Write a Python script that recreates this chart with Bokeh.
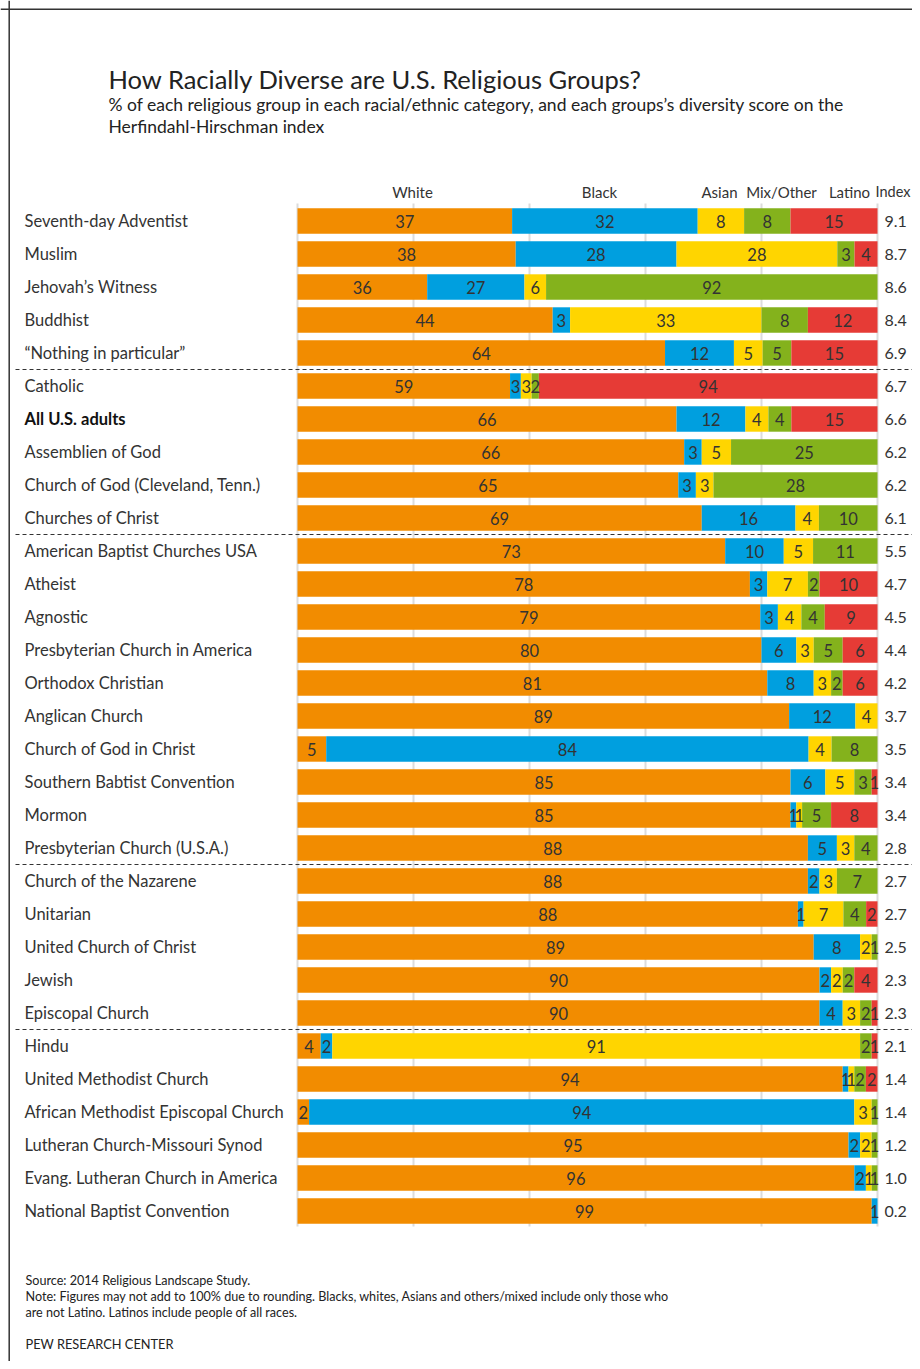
import numpy as np
from bokeh.plotting import figure
from bokeh.models import ColumnDataSource, Range1d, Span
from bokeh.core.properties import value
from bokeh.embed import file_html
from bokeh.resources import INLINE

groups = [
    "Seventh-day Adventist", "Muslim", "Jehovah\u2019s Witness", "Buddhist",
    "\u201cNothing in particular\u201d", "Catholic", "All U.S. adults",
    "Assemblien of God", "Church of God (Cleveland, Tenn.)", "Churches of Christ",
    "American Baptist Churches USA", "Atheist", "Agnostic",
    "Presbyterian Church in America", "Orthodox Christian", "Anglican Church",
    "Church of God in Christ", "Southern Babtist Convention", "Mormon",
    "Presbyterian Church (U.S.A.)", "Church of the Nazarene", "Unitarian",
    "United Church of Christ", "Jewish", "Episcopal Church", "Hindu",
    "United Methodist Church", "African Methodist Episcopal Church",
    "Lutheran Church-Missouri Synod", "Evang. Lutheran Church in America",
    "National Baptist Convention",
]
white  = [37, 38, 36, 44, 64, 59, 66, 66, 65, 69, 73, 78, 79, 80, 81, 89, 5, 85, 85, 88, 88, 88, 89, 90, 90, 4, 94, 2, 95, 96, 99]
black  = [32, 28, 27, 3, 12, 3, 12, 3, 3, 16, 10, 3, 3, 6, 8, 12, 84, 6, 1, 5, 2, 1, 8, 2, 4, 2, 1, 94, 2, 2, 1]
asian  = [8, 28, 6, 33, 5, 3, 4, 5, 3, 4, 5, 7, 4, 3, 3, 4, 4, 5, 1, 3, 3, 7, 2, 2, 3, 91, 1, 3, 2, 1, 0]
mixed  = [8, 3, 92, 8, 5, 2, 4, 25, 28, 10, 11, 2, 4, 5, 2, 0, 8, 3, 5, 4, 7, 4, 1, 2, 2, 2, 2, 1, 1, 1, 0]
latino = [15, 4, 0, 12, 15, 94, 15, 0, 0, 0, 0, 10, 9, 6, 6, 0, 0, 1, 8, 0, 0, 2, 0, 4, 1, 1, 2, 0, 0, 0, 0]
index_score = ["9.1", "8.7", "8.6", "8.4", "6.9", "6.7", "6.6", "6.2", "6.2", "6.1", "5.5", "4.7", "4.5", "4.4",
               "4.2", "3.7", "3.5", "3.4", "3.4", "2.8", "2.7", "2.7", "2.5", "2.3", "2.3", "2.1", "1.4", "1.4",
               "1.2", "1.0", "0.2"]
categories = ["White", "Black", "Asian", "Mix/Other", "Latino"]
colors = ["#F28C00", "#009FDF", "#FFD500", "#84B21C", "#E63B36"]
separator_after = [5, 10, 20, 25]
bold_groups = ["All U.S. adults"]

title = "How Racially Diverse are U.S. Religious Groups?"
subtitle = ["% of each religious group in each racial/ethnic category, and each groups\u2019s diversity score on the",
            "Herfindahl-Hirschman index"]
notes = ["Source: 2014 Religious Landscape Study.",
         "Note: Figures may not add to 100% due to rounding. Blacks, whites, Asians and others/mixed include only those who",
         "are not Latino. Latinos include people of all races."]
credit = "PEW RESEARCH CENTER"

W, H = 912, 1361
# pixel helpers (canvas pixels)
BAR_L, BAR_W = 297, 580
ROW0, STEP = 220.5, 33.0
def X(px):
    return (px - BAR_L) / BAR_W
def Y(py):
    return (py - ROW0) / STEP

FONT = value("Lato")
TXT = "#333333"

p = figure(width=W, height=H, output_backend="svg", toolbar_location=None,
           x_axis_type=None, y_axis_type=None, min_border=0,
           x_range=Range1d(X(0), X(W)), y_range=Range1d(Y(H), Y(0)),
           outline_line_color=None, background_fill_color="white", border_fill_color="white")
p.xgrid.visible = False
p.ygrid.visible = False

n = len(groups)
rows = np.arange(n)
vals = np.array([white, black, asian, mixed, latino], dtype=float).T
frac = vals / vals.sum(axis=1, keepdims=True)
right = np.cumsum(frac, axis=1)
left = right - frac

# gridlines
gx = [0, 0.2, 0.4, 0.6, 0.8, 1.0]
p.segment(x0=gx, x1=gx, y0=[Y(203)] * len(gx), y1=[Y(1226)] * len(gx), line_color="#DCDCDC", line_width=2)

# bars
for j, cat in enumerate(categories):
    src = ColumnDataSource(dict(y=rows, left=left[:, j], right=right[:, j]))
    p.hbar(y="y", left="left", right="right", height=0.77, source=src,
           fill_color=colors[j], line_color=None)

# bar value labels
lx, ly, lt = [], [], []
for i in range(n):
    for j in range(len(categories)):
        if vals[i, j] > 0:
            lx.append((left[i, j] + right[i, j]) / 2)
            ly.append(i)
            lt.append(str(int(vals[i, j])))
p.text(x=lx, y=ly, text=lt, text_align="center", text_baseline="middle",
       text_font=FONT, text_font_size="16.5px", text_color=TXT)

# group labels
normal = [i for i, g in enumerate(groups) if g not in bold_groups]
bold = [i for i, g in enumerate(groups) if g in bold_groups]
p.text(x=[X(24)] * len(normal), y=normal, text=[groups[i] for i in normal], text_align="left",
       text_baseline="middle", text_font=FONT, text_font_size="16.5px", text_color=TXT)
p.text(x=[X(24)] * len(bold), y=bold, text=[groups[i] for i in bold], text_align="left",
       text_baseline="middle", text_font=FONT, text_font_size="16.5px", text_color="#111111",
       text_font_style="bold")

# index values
p.text(x=[X(884)] * n, y=rows, text=index_score, text_align="left", text_baseline="middle",
       text_font=FONT, text_font_size="16px", text_color=TXT)

# column headers
hx = [412, 599, 719, 781, 849]
p.text(x=[X(v) for v in hx], y=[Y(191)] * 5, text=categories, text_align="center",
       text_baseline="middle", text_font=FONT, text_font_size="15px", text_color=TXT)
p.text(x=[X(910)], y=[Y(191)], text=["Index"], text_align="right",
       text_baseline="middle", text_font=FONT, text_font_size="14.5px", text_color=TXT)

# dashed separators
sy = [s - 0.5 for s in separator_after]
p.segment(x0=[X(15)] * len(sy), x1=[X(W)] * len(sy), y0=sy, y1=sy,
          line_color="#333333", line_width=1, line_dash="4 3")

# titles
p.text(x=[X(108)], y=[Y(78)], text=[title], text_align="left", text_baseline="middle",
       text_font=FONT, text_font_size="25.5px", text_color="#222222")
p.text(x=[X(108)] * 2, y=[Y(104), Y(126)], text=subtitle, text_align="left", text_baseline="middle",
       text_font=FONT, text_font_size="17.5px", text_color="#222222")

# notes
p.text(x=[X(25)] * 3, y=[Y(1280), Y(1296), Y(1312)], text=notes, text_align="left",
       text_baseline="middle", text_font=FONT, text_font_size="12.6px", text_color="#222222")
p.text(x=[X(25)], y=[Y(1343)], text=[credit], text_align="left", text_baseline="middle",
       text_font=FONT, text_font_size="12.8px", text_color="#222222")

# frame lines (left and top)
p.add_layout(Span(location=X(8.7), dimension="height", line_color="#333333", line_width=1.5))
p.add_layout(Span(location=Y(8.7), dimension="width", line_color="#333333", line_width=1.5))

open("out.html", "w").write(file_html(p, INLINE))
